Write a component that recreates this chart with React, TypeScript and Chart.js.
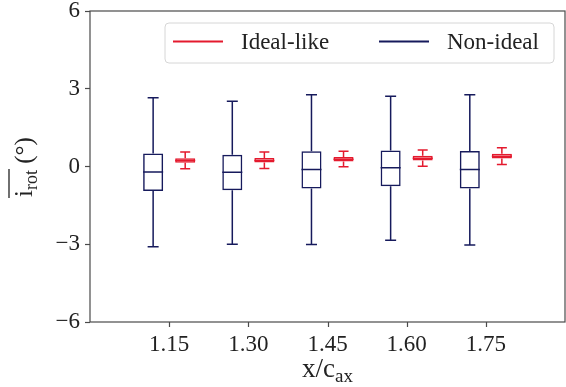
import React, { useEffect, useRef } from "react";
import { Chart, registerables } from "chart.js";

Chart.register(...registerables);

// ---- data ----
const categories = ["1.15", "1.30", "1.45", "1.60", "1.75"];
const yTicks = [-6, -3, 0, 3, 6];

const nonIdealMin = [-3.1, -3.0, -3.01, -2.85, -3.03];
const nonIdealQ1 = [-0.95, -0.92, -0.85, -0.76, -0.85];
const nonIdealMed = [-0.21, -0.22, -0.12, -0.05, -0.12];
const nonIdealQ3 = [0.5, 0.45, 0.59, 0.62, 0.6];
const nonIdealMax = [2.65, 2.52, 2.77, 2.71, 2.77];

const idealMin = [-0.09, -0.08, -0.01, 0.01, 0.08];
const idealQ1 = [0.14, 0.15, 0.19, 0.23, 0.31];
const idealMed = [0.23, 0.23, 0.28, 0.32, 0.4];
const idealQ3 = [0.32, 0.33, 0.37, 0.41, 0.49];
const idealMax = [0.56, 0.56, 0.59, 0.64, 0.72];

const RED = "#e41a2e";
const NAVY = "#161a5c";
const AXIS = "#4a4a4a";
const FONT = "'Liberation Serif', 'DejaVu Serif', serif";

export default function App() {
  const ref = useRef<HTMLCanvasElement | null>(null);

  useEffect(() => {
    document.body.style.margin = "0";
    const canvas = ref.current;
    if (!canvas) return;

    // padding slots at both ends of the axis (1.00 and 1.90)
    const labels = ["", ...categories, ""];
    const pad = (arr: any[]) => [null, ...arr, null];

    const stats = [
      { min: nonIdealMin, med: nonIdealMed, max: nonIdealMax, color: NAVY, cap: 11 },
      { min: idealMin, med: idealMed, max: idealMax, color: RED, cap: 10 },
    ];

    const boxPlugin = {
      id: "boxWhiskers",
      afterDatasetsDraw(chart: any) {
        const ctx = chart.ctx;
        const yScale = chart.scales.y;
        chart.data.datasets.forEach((_ds: any, di: number) => {
          const meta = chart.getDatasetMeta(di);
          const s = stats[di];
          ctx.save();
          ctx.strokeStyle = s.color;
          ctx.lineWidth = 1.5;
          meta.data.forEach((el: any, i: number) => {
            const k = i - 1;
            if (k < 0 || k >= categories.length) return;
            const raw = chart.data.datasets[di].data[i];
            if (!raw) return;
            const x = el.x;
            const w = el.width;
            const yq1 = yScale.getPixelForValue(raw[0]);
            const yq3 = yScale.getPixelForValue(raw[1]);
            const ymed = yScale.getPixelForValue(s.med[k]);
            const ymin = yScale.getPixelForValue(s.min[k]);
            const ymax = yScale.getPixelForValue(s.max[k]);
            ctx.beginPath();
            ctx.moveTo(x - w / 2, ymed);
            ctx.lineTo(x + w / 2, ymed);
            ctx.moveTo(x, yq3);
            ctx.lineTo(x, ymax);
            ctx.moveTo(x, yq1);
            ctx.lineTo(x, ymin);
            ctx.moveTo(x - s.cap / 2, ymax);
            ctx.lineTo(x + s.cap / 2, ymax);
            ctx.moveTo(x - s.cap / 2, ymin);
            ctx.lineTo(x + s.cap / 2, ymin);
            ctx.stroke();
          });
          ctx.restore();
        });
      },
    };

    const framePlugin = {
      id: "frameAndTitles",
      afterDraw(chart: any) {
        const ctx = chart.ctx;
        const a = chart.chartArea;
        ctx.save();
        ctx.strokeStyle = AXIS;
        ctx.lineWidth = 1.2;
        ctx.strokeRect(a.left, a.top, a.right - a.left, a.bottom - a.top);

        // legend
        const lx = 165, ly = 23, lw = 389, lh = 40, r = 4;
        ctx.beginPath();
        ctx.moveTo(lx + r, ly);
        ctx.lineTo(lx + lw - r, ly);
        ctx.arcTo(lx + lw, ly, lx + lw, ly + r, r);
        ctx.lineTo(lx + lw, ly + lh - r);
        ctx.arcTo(lx + lw, ly + lh, lx + lw - r, ly + lh, r);
        ctx.lineTo(lx + r, ly + lh);
        ctx.arcTo(lx, ly + lh, lx, ly + lh - r, r);
        ctx.lineTo(lx, ly + r);
        ctx.arcTo(lx, ly, lx + r, ly, r);
        ctx.closePath();
        ctx.fillStyle = "rgba(255,255,255,0.8)";
        ctx.fill();
        ctx.strokeStyle = "#d6d6d6";
        ctx.lineWidth = 1;
        ctx.stroke();

        const items = [
          { text: chart.data.datasets[1].label, color: RED, x: 173 },
          { text: chart.data.datasets[0].label, color: NAVY, x: 379 },
        ];
        ctx.font = `23px ${FONT}`;
        ctx.textBaseline = "middle";
        ctx.textAlign = "left";
        items.forEach((it) => {
          ctx.strokeStyle = it.color;
          ctx.lineWidth = 2;
          ctx.beginPath();
          ctx.moveTo(it.x, 41.5);
          ctx.lineTo(it.x + 50, 41.5);
          ctx.stroke();
          ctx.fillStyle = "#222";
          ctx.fillText(it.text, it.x + 68, 43);
        });

        // x-axis tick marks at category positions (skip the two padding slots)
        const xs = chart.scales.x;
        ctx.strokeStyle = AXIS;
        ctx.lineWidth = 1.2;
        ctx.beginPath();
        for (let i = 1; i <= categories.length; i++) {
          const tx = Math.round(xs.getPixelForTick(i)) + 0.5;
          ctx.moveTo(tx, a.bottom);
          ctx.lineTo(tx, a.bottom + 5);
        }
        ctx.stroke();

        // x title: x/c_ax
        ctx.fillStyle = "#222";
        ctx.textBaseline = "alphabetic";
        const mainX = "x/c";
        const subX = "ax";
        ctx.font = `27px ${FONT}`;
        const wMain = ctx.measureText(mainX).width;
        ctx.font = `19px ${FONT}`;
        const wSub = ctx.measureText(subX).width;
        const cx = (a.left + a.right) / 2;
        const sx = cx - (wMain + wSub) / 2;
        ctx.font = `27px ${FONT}`;
        ctx.fillText(mainX, sx, 377);
        ctx.font = `19px ${FONT}`;
        ctx.fillText(subX, sx + wMain, 382);

        // y title: i̅_rot (°)
        ctx.translate(32, 167);
        ctx.rotate(-Math.PI / 2);
        ctx.font = `25px ${FONT}`;
        const wi = ctx.measureText("i").width;
        const wdeg = ctx.measureText(" (°)").width;
        ctx.font = `18px ${FONT}`;
        const wrot = ctx.measureText("rot").width;
        const total = wi + wrot + wdeg;
        const px = -total / 2;
        ctx.font = `25px ${FONT}`;
        ctx.fillText("i", px, 0);
        ctx.font = `18px ${FONT}`;
        ctx.fillText("rot", px + wi, 5);
        ctx.strokeStyle = "#222";
        ctx.lineWidth = 1.3;
        ctx.beginPath();
        ctx.moveTo(px - 1, -23);
        ctx.lineTo(px + wi + wrot + 1, -23);
        ctx.stroke();
        ctx.font = `25px ${FONT}`;
        ctx.fillText(" (°)", px + wi + wrot, 0);
        ctx.restore();
      },
    };

    const chart = new Chart(canvas, {
      type: "bar",
      data: {
        labels,
        datasets: [
          {
            label: "Non-ideal",
            data: pad(nonIdealQ1.map((q, i) => [q, nonIdealQ3[i]])),
            backgroundColor: "rgba(255,255,255,0)",
            borderColor: NAVY,
            borderWidth: 1.5,
            borderSkipped: false,
          },
          {
            label: "Ideal-like",
            data: pad(idealQ1.map((q, i) => [q, idealQ3[i]])),
            backgroundColor: "rgba(255,255,255,0)",
            borderColor: RED,
            borderWidth: 1.5,
            borderSkipped: false,
          },
        ],
      },
      options: {
        responsive: false,
        animation: false,
        devicePixelRatio: 1,
        categoryPercentage: 0.81,
        barPercentage: 0.625,
        layout: { padding: { left: 0, right: 1, top: 11, bottom: 0 } },
        plugins: { legend: { display: false }, tooltip: { enabled: false } },
        scales: {
          x: {
            offset: false,
            grid: { display: false },
            border: { display: false },
            ticks: {
              autoSkip: false,
              maxRotation: 0,
              padding: 1,
              color: "#222",
              font: { family: FONT, size: 23 },
            },
            afterFit: (s: any) => {
              s.height = 65;
              s.paddingLeft = 0;
              s.paddingRight = 0;
            },
          },
          y: {
            min: -6,
            max: 6,
            afterBuildTicks: (s: any) => {
              s.ticks = yTicks.map((v) => ({ value: v }));
            },
            grid: {
              display: true,
              drawOnChartArea: false,
              drawTicks: true,
              tickLength: 5,
              tickWidth: 1.2,
              color: AXIS,
            },
            border: { display: false },
            ticks: {
              padding: 5,
              color: "#222",
              font: { family: FONT, size: 23 },
              callback: (v: any) => (Number(v) < 0 ? "\u2212" + Math.abs(Number(v)) : String(v)),
            },
            afterFit: (s: any) => {
              s.width = 90;
              s.paddingTop = 0;
              s.paddingBottom = 0;
            },
          },
        },
      },
      plugins: [boxPlugin, framePlugin],
    });

    return () => chart.destroy();
  }, []);

  return (
    <div style={{ width: 566, height: 387, position: "relative" }}>
      <canvas ref={ref} width={566} height={387} style={{ width: 566, height: 387 }} />
    </div>
  );
}
